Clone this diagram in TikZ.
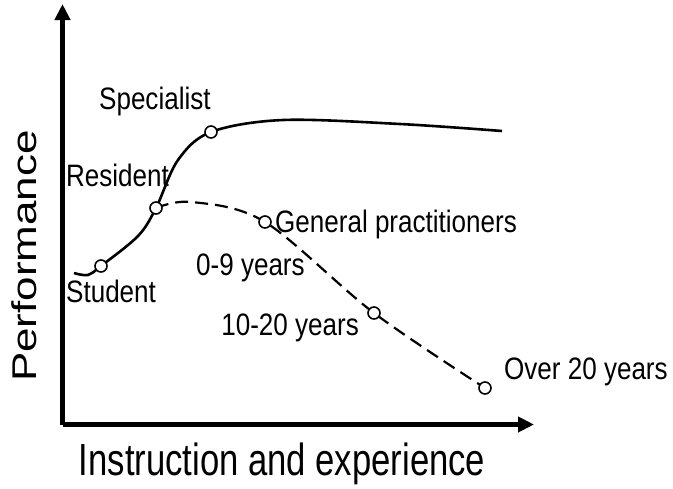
\documentclass[tikz,border=0pt]{standalone}
\usepackage{fontspec}
\setmainfont{Liberation Sans}
\usetikzlibrary{arrows.meta}
\begin{document}
\begin{tikzpicture}[x=1pt,y=-1pt,
  axis/.style={line width=4.5pt,-{Triangle[length=16pt,width=15pt]}},
  solidcurve/.style={line width=2.6pt,line join=round},
  dashcurve/.style={line width=2.2pt,dash pattern=on 13pt off 7pt},
  pt/.style={circle,draw,fill=white,line width=1.6pt,minimum size=12pt,inner sep=0pt},
  lbl/.style={font=\fontsize{31}{33}\selectfont,inner sep=0pt,xscale=0.84},
  axlbl/.style={font=\fontsize{45}{47}\selectfont,inner sep=0pt}]
\useasboundingbox[fill=white] (0,0) rectangle (673,488);
% axes
\coordinate (O) at (62.5,424.5);
\coordinate (ytip) at (62.5,4);
\coordinate (xtip) at (534,424.5);
\draw[axis] (O) -- (ytip);
\draw[axis] (O) -- (xtip);
% points
\coordinate (s0) at (74,273);
\coordinate (s1) at (88,275);
\coordinate (s2) at (138,236);
\coordinate (s3) at (178,160);
\coordinate (s4) at (283,120);
\coordinate (s5) at (400,124);
\coordinate (s6) at (502,131);
\coordinate (d1) at (192,202);
\coordinate (stuP) at (101,266);
\coordinate (resP) at (156,208);
\coordinate (speP) at (211,132);
\coordinate (gpP) at (265,222);
\coordinate (y10P) at (374,313);
\coordinate (y20P) at (485,388);
% curves
\draw[solidcurve] plot[smooth,tension=0.55] coordinates {(s0) (s1) (stuP) (s2) (resP) (s3) (speP) (s4) (s5) (s6)};
\draw[dashcurve] plot[smooth,tension=0.55] coordinates {(resP) (d1) (gpP) (y10P) (y20P)};
% circles
\node[pt] (stu) at (stuP) {};
\node[pt] (res) at (resP) {};
\node[pt] (spe) at (speP) {};
\node[pt] (gp) at (gpP) {};
\node[pt] (y10) at (y10P) {};
\node[pt] (y20) at (y20P) {};
% labels
\node[lbl,anchor=base west] (tspe) at (99,109) {Specialist};
\node[lbl,anchor=base west] (tres) at (66,186) {Resident};
\node[lbl,anchor=base west] (tstu) at (66,302) {Student};
\node[lbl,anchor=base west] (tgp) at (275,232) {General practitioners};
\node[lbl,anchor=base west] (t09) at (196,275) {0-9 years};
\node[lbl,anchor=base east] (t10) at (359,335) {10-20 years};
\node[lbl,anchor=base west] (t20) at (504,379) {Over 20 years};
\node[axlbl,xscale=0.77,anchor=base] (tx) at (282,475) {Instruction and experience};
\node[axlbl,font=\fontsize{44}{46}\selectfont,rotate=90,yscale=0.78] (ty) at (24,256) {Performance};
\end{tikzpicture}
\end{document}
